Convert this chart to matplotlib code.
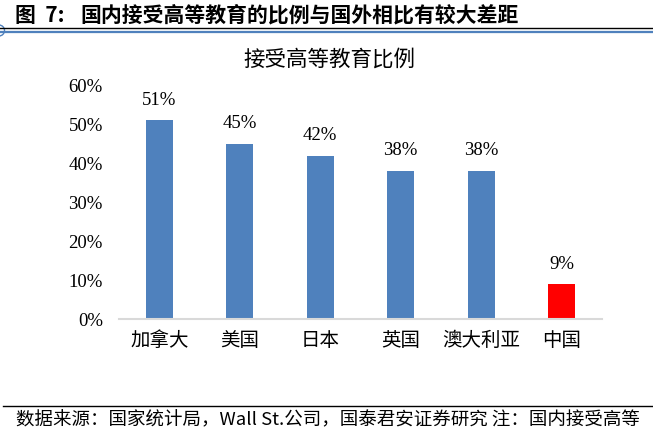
import matplotlib
matplotlib.use("Agg")
import matplotlib.pyplot as plt
from matplotlib.lines import Line2D
from matplotlib.patches import Ellipse
from matplotlib.ticker import FixedLocator

categories = ["加拿大", "美国", "日本", "英国", "澳大利亚", "中国"]
values = [0.51, 0.45, 0.42, 0.38, 0.38, 0.09]
value_labels = ["51%", "45%", "42%", "38%", "38%", "9%"]
bar_colors = ["#4F81BD", "#4F81BD", "#4F81BD", "#4F81BD", "#4F81BD", "#FF0000"]
y_ticks = [0.0, 0.1, 0.2, 0.3, 0.4, 0.5, 0.6]
y_tick_labels = ["0%", "10%", "20%", "30%", "40%", "50%", "60%"]

fig_title_prefix = "图  7:"
fig_title = "国内接受高等教育的比例与国外相比有较大差距"
chart_title = "接受高等教育比例"
footnote = "数据来源：国家统计局，Wall St.公司，国泰君安证券研究 注：国内接受高等"

CJK = ["Noto Sans CJK SC", "DejaVu Sans"]
SERIF = ["Liberation Serif", "Noto Sans CJK SC"]

W, H = 653, 438
fig = plt.figure(figsize=(W / 100, H / 100), dpi=100)
fig.patch.set_facecolor("white")

ax = fig.add_axes([119 / W, 1 - 319.3 / H, (602 - 119) / W, (319.3 - 85.3) / H])
x = list(range(len(categories)))
ax.bar(x, values, width=0.335, color=bar_colors)
ax.set_xlim(-0.5, len(categories) - 0.5)
ax.set_ylim(0, 0.6)

for xi, v, lab in zip(x, values, value_labels):
    ax.annotate(lab, (xi, v), xytext=(0, 11.3), textcoords="offset points",
                ha="center", va="baseline", fontsize=13.5, family=SERIF)

ax.yaxis.set_major_locator(FixedLocator(y_ticks))
ax.set_yticklabels(y_tick_labels, family=SERIF, fontsize=13.5)
ax.set_xticks(x)
ax.set_xticklabels(categories, family=CJK, fontsize=14)
ax.tick_params(axis="both", length=0)
ax.tick_params(axis="y", pad=11.6)
ax.tick_params(axis="x", pad=8)

for s in ["left", "right", "top"]:
    ax.spines[s].set_visible(False)
ax.spines["bottom"].set_color("#D9D9D9")
ax.spines["bottom"].set_linewidth(1.5)

fig.text(329.5 / W, 1 - 60 / H, chart_title, ha="center", va="center",
         fontsize=15.5, family=CJK)

# header
fig.text(15 / W, 1 - 15 / H, fig_title_prefix, ha="left", va="center",
         fontsize=15, fontweight="bold", family=CJK)
fig.text(80 / W, 1 - 15 / H, fig_title, ha="left", va="center",
         fontsize=15, fontweight="bold", family=CJK)
fig.add_artist(Line2D([0, 1], [1 - 28 / H, 1 - 28 / H], color="#000000", lw=1.0,
                      transform=fig.transFigure))
fig.add_artist(Line2D([0, 1], [1 - 30.5 / H, 1 - 30.5 / H], color="#4F81BD", lw=0.9,
                      transform=fig.transFigure))
fig.add_artist(Line2D([0, 1], [1 - 32.3 / H, 1 - 32.3 / H], color="#4F81BD", lw=0.9,
                      transform=fig.transFigure))
fig.add_artist(Ellipse((-1 / W, 1 - 30.5 / H), 11 / W, 11 / H, fill=False,
                       edgecolor="#4F81BD", lw=1.0, transform=fig.transFigure))

# footer
fig.add_artist(Line2D([3 / W, 1], [1 - 406 / H, 1 - 406 / H], color="#000000", lw=1.0,
                      transform=fig.transFigure))
fig.text(16 / W, 1 - 420 / H, footnote, ha="left", va="center",
         fontsize=13.3, family=CJK)

fig.savefig("out.png", dpi=100)
